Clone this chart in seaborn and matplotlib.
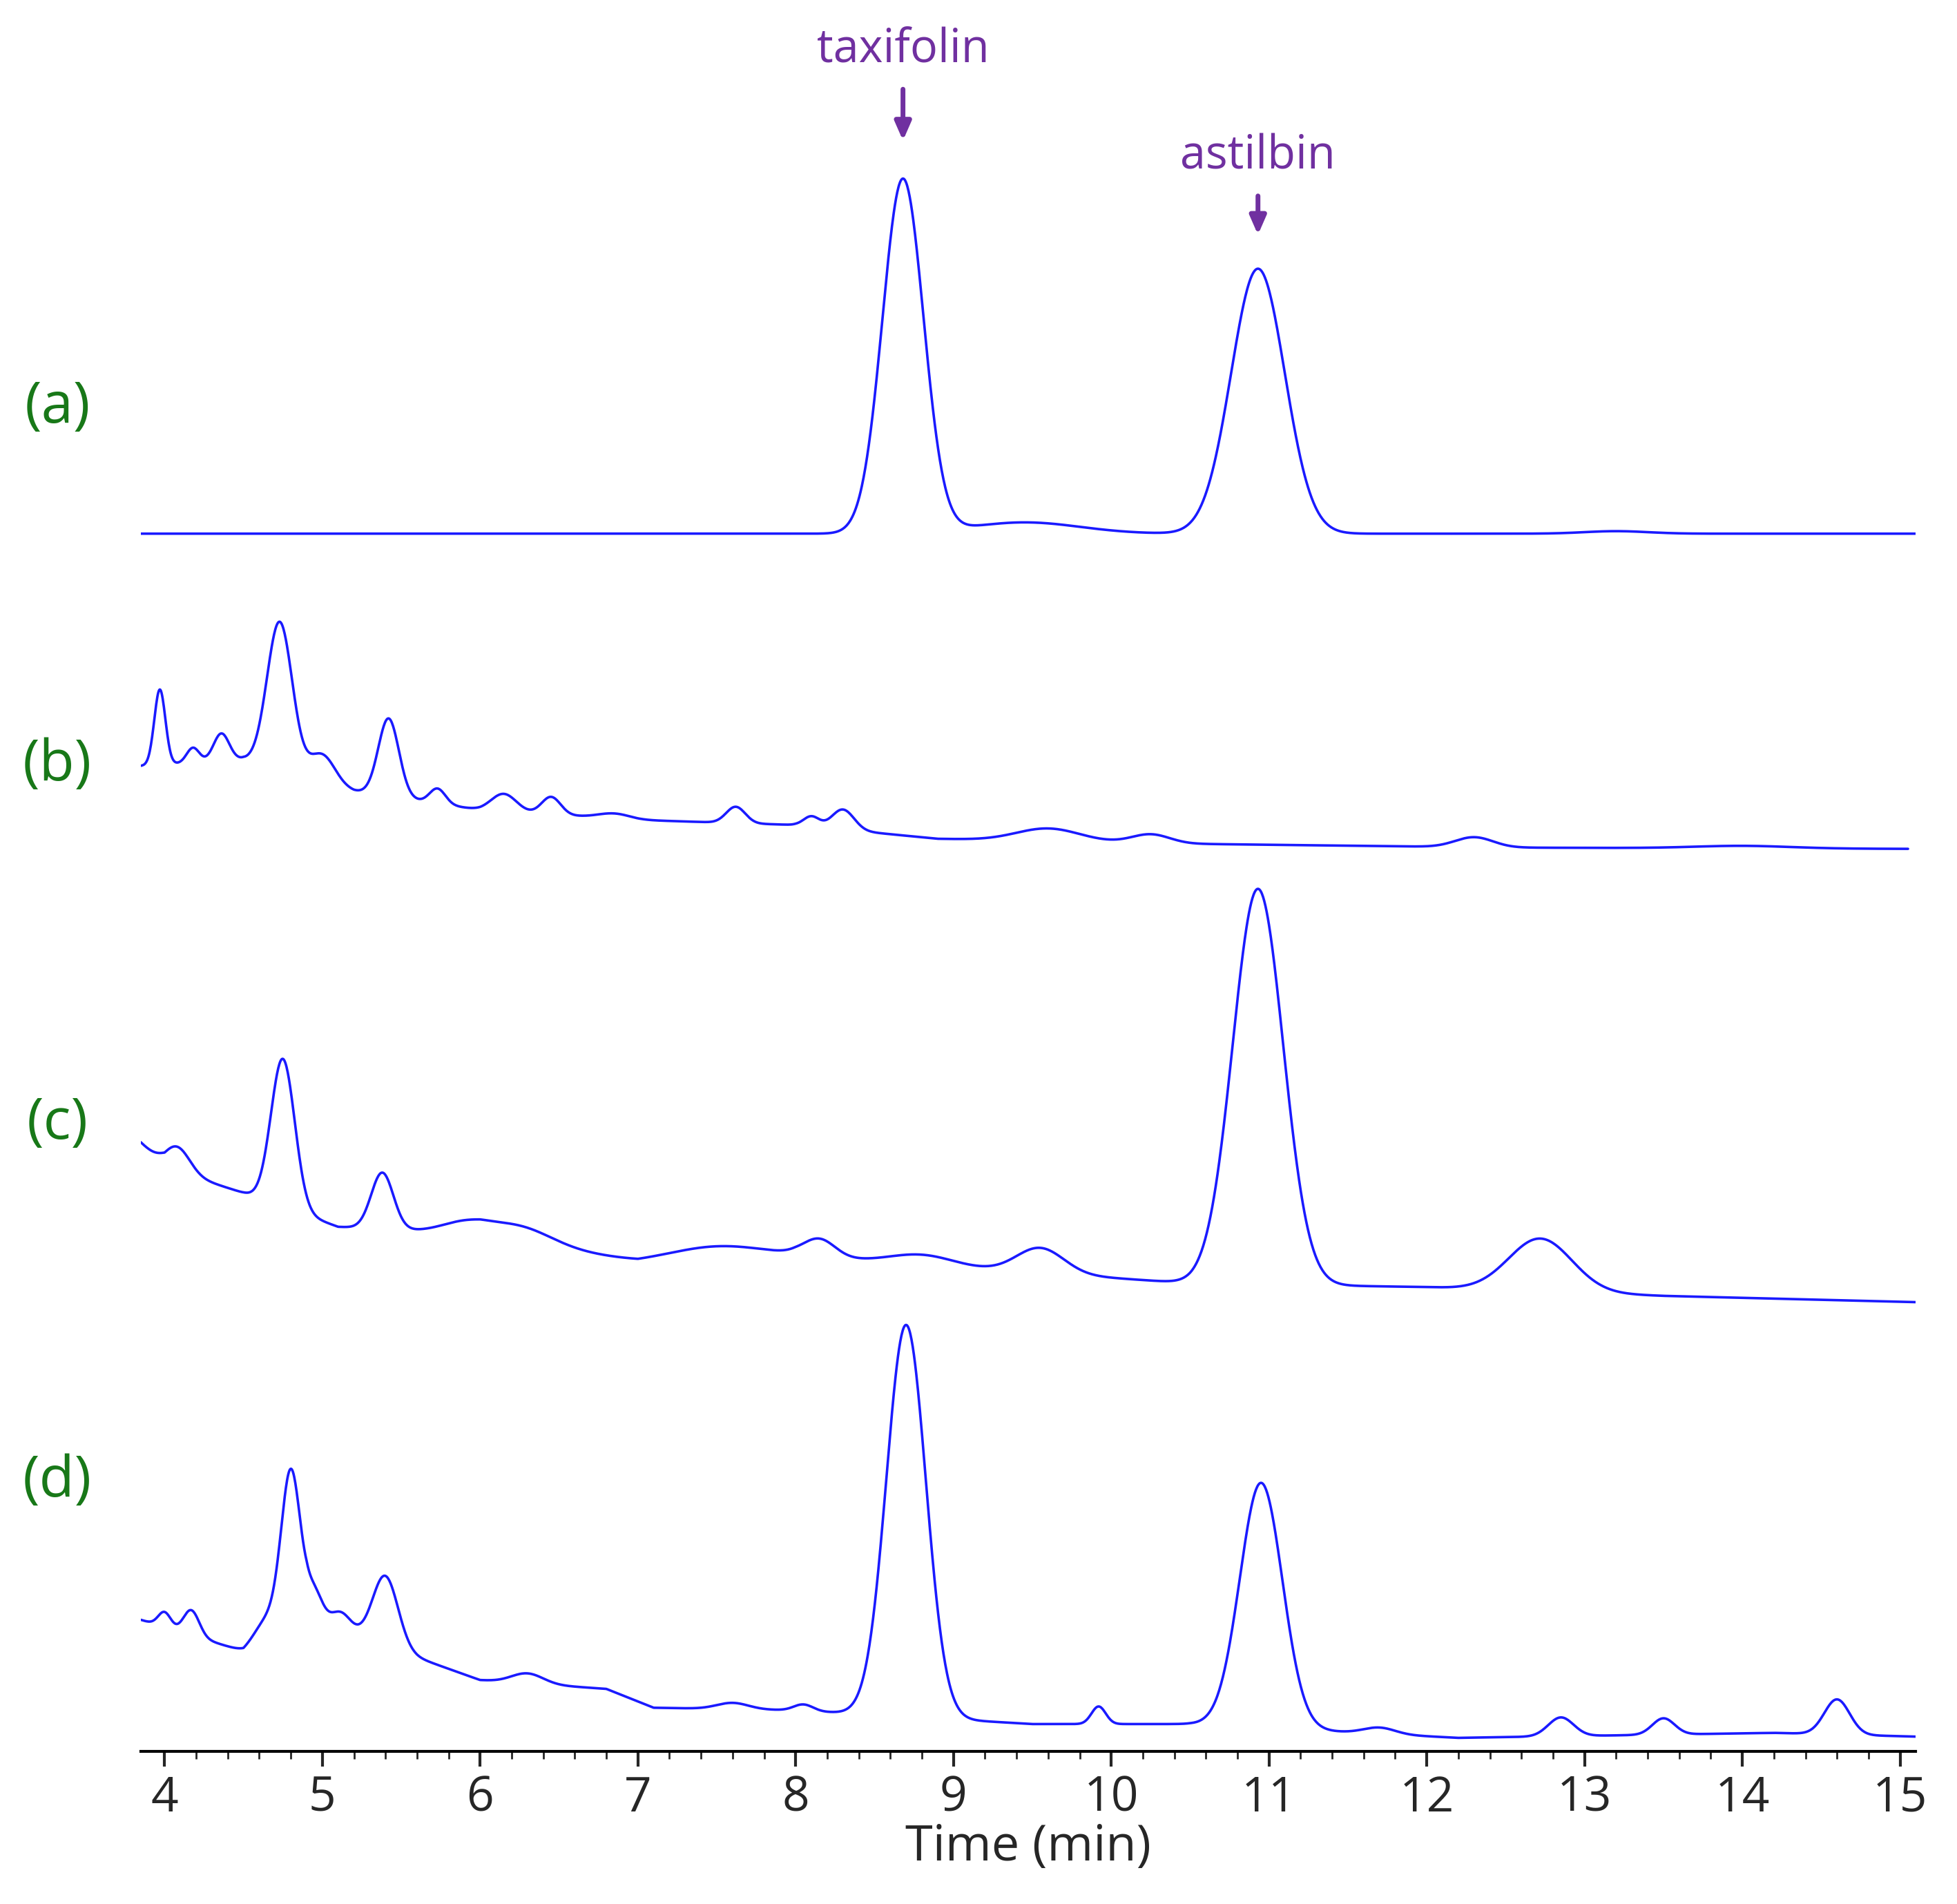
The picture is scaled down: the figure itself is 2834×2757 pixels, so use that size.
import numpy as np
import pandas as pd
import matplotlib.pyplot as plt
import seaborn as sns

# ─────────────────────────────────────────────
# Data (heights in picture units, up = larger)
# peaks: (retention time min, height, sigma)
# ─────────────────────────────────────────────
TIME_START = 3.85
TIME_END = 15.1

bg_a_t = [3.85, 15.1]
bg_a_y = [970, 970]
peaks_a = [(8.68, 282, 0.13), (9.45, 9, 0.35), (10.93, 211, 0.17), (13.2, 2, 0.2)]
end_a = 15.1

bg_b_t = [3.85, 4.5, 5.2, 6.0, 7.0, 8.0, 8.9, 10.5, 12.5, 15.0]
bg_b_y = [785, 790, 765, 750, 742, 738, 727, 723, 720, 719]
peaks_b = [(3.97, 60, 0.035), (4.18, 12, 0.04), (4.36, 22, 0.05), (4.73, 118, 0.08),
           (5.0, 22, 0.08), (5.42, 62, 0.065), (5.73, 12, 0.05), (6.15, 14, 0.08),
           (6.45, 14, 0.06), (6.85, 4, 0.1), (7.62, 13, 0.06), (8.1, 8, 0.05),
           (8.3, 16, 0.07), (9.6, 10, 0.2), (10.25, 7, 0.12), (12.3, 8, 0.12),
           (14.0, 2, 0.3)]
end_b = 15.05

bg_c_t = [3.85, 4.0, 4.5, 5.1, 6.0, 7.0, 8.0, 9.0, 10.5, 12.0, 13.5, 15.1]
bg_c_y = [485, 465, 445, 418, 412, 390, 395, 386, 373, 370, 363, 358]
peaks_c = [(4.08, 20, 0.08), (4.75, 118, 0.075), (5.38, 45, 0.07), (5.9, 8, 0.15),
           (6.25, 12, 0.2), (7.5, 10, 0.3), (8.15, 14, 0.1), (8.8, 8, 0.2),
           (9.55, 20, 0.15), (10.93, 315, 0.16), (12.72, 42, 0.2)]
end_c = 15.1

bg_d_t = [3.85, 4.5, 4.9, 5.6, 6.0, 6.8, 7.1, 8.0, 9.5, 10.5, 12.2, 14.2, 15.1]
bg_d_y = [105, 80, 110, 75, 57, 50, 35, 33, 22, 22, 11, 15, 12]
peaks_d = [(4.0, 12, 0.04), (4.17, 20, 0.05), (4.65, 15, 0.08), (4.8, 120, 0.06),
           (4.95, 20, 0.05), (5.12, 12, 0.06), (5.4, 55, 0.08), (6.3, 8, 0.1),
           (7.6, 5, 0.1), (8.05, 5, 0.06), (8.7, 312, 0.125), (9.92, 14, 0.045),
           (10.95, 195, 0.135), (11.7, 5, 0.1), (12.85, 15, 0.08), (13.5, 13, 0.07),
           (14.6, 28, 0.08)]
end_d = 15.1

trace_labels = ["(a)", "(b)", "(c)", "(d)"]
label_y = [1070, 785, 500, 215]

compounds = ["taxifolin", "astilbin"]
compound_t = [8.68, 10.93]
compound_text_y = [1337, 1252]
arrow_top_y = [1327, 1242]
arrow_tip_y = [1280, 1205]

tick_values = list(range(4, 16))

LINE_COLOR = "#1a1aff"
LABEL_GREEN = "#187818"
ANNOT_PURPLE = "#7030A0"


def build_trace(bg_t, bg_y, peaks, t_end):
    t = np.linspace(TIME_START, t_end, 3000)
    y = np.interp(t, bg_t, bg_y)
    for c, h, s in peaks:
        y = y + h * np.exp(-0.5 * ((t - c) / s) ** 2)
    return pd.DataFrame({"time": t, "signal": y})


sns.set_style("white")
plt.rcParams["font.family"] = ["Open Sans", "DejaVu Sans"]

fig = plt.figure(figsize=(14.17, 13.785), dpi=200)
ax = fig.add_axes([0.072, 0.080, 0.907, 0.92])

traces = [
    build_trace(bg_a_t, bg_a_y, peaks_a, end_a),
    build_trace(bg_b_t, bg_b_y, peaks_b, end_b),
    build_trace(bg_c_t, bg_c_y, peaks_c, end_c),
    build_trace(bg_d_t, bg_d_y, peaks_d, end_d),
]
for df in traces:
    sns.lineplot(data=df, x="time", y="signal", color=LINE_COLOR, lw=1.3, ax=ax)

for lab, yy in zip(trace_labels, label_y):
    ax.text(-0.047, yy, lab, transform=ax.get_yaxis_transform(), ha="center",
            va="center", fontsize=30, color=LABEL_GREEN, clip_on=False)

for name, t, ty, a0, a1 in zip(compounds, compound_t, compound_text_y, arrow_top_y, arrow_tip_y):
    ax.text(t, ty, name, ha="center", va="bottom", fontsize=24, color=ANNOT_PURPLE)
    ax.annotate("", xy=(t, a1), xytext=(t, a0),
                arrowprops=dict(arrowstyle="-|>,head_width=0.35,head_length=0.8",
                                color=ANNOT_PURPLE, lw=2.5))

ax.set_xlim(TIME_START, TIME_END)
ax.set_ylim(0, 1395)
ax.set_xticks(tick_values)
ax.set_xticklabels([str(v) for v in tick_values], fontsize=25)
ax.xaxis.set_minor_locator(plt.MultipleLocator(0.2))
ax.tick_params(axis="x", which="major", direction="out", length=8, width=1.5, bottom=True, pad=4)
ax.tick_params(axis="x", which="minor", direction="out", length=4, width=1, bottom=True)
ax.set_yticks([])
ax.set_xlabel("Time (min)", fontsize=26, labelpad=0)
ax.set_ylabel("")
for side in ["top", "left", "right"]:
    ax.spines[side].set_visible(False)
ax.spines["bottom"].set_linewidth(1.5)
ax.spines["bottom"].set_color("black")

fig.savefig("out.png", dpi=200)
